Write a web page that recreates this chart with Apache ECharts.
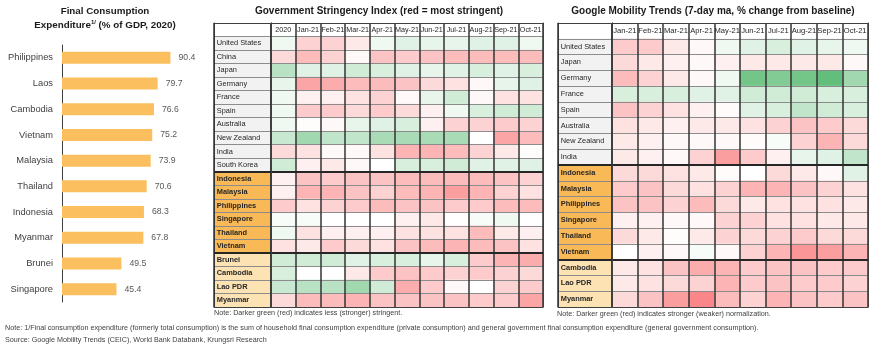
<!DOCTYPE html>
<html><head><meta charset="utf-8">
<script src="https://cdn.jsdelivr.net/npm/echarts@6/dist/echarts.min.js"></script>
<style>html,body{margin:0;padding:0;background:#fff}#c{width:870px;height:351px}</style>
</head><body><div id="c"></div>
<script>
// ---------- data ----------
const consumptionCountries = ['Philippines','Laos','Cambodia','Vietnam','Malaysia','Thailand','Indonesia','Myanmar','Brunei','Singapore'];
const consumptionValues = [90.4,79.7,76.6,75.2,73.9,70.6,68.3,67.8,49.5,45.4];

// colour-scale scores read from the cells: -10 = darkest green, 0 = white, +10 = darkest red
const stringencyMonths = ['2020','Jan-21','Feb-21','Mar-21','Apr-21','May-21','Jun-21','Jul-21','Aug-21','Sep-21','Oct-21'];
const stringencyCountries = ['United States','China','Japan','Germany','France','Spain','Australia','New Zealand','India','South Korea',
  'Indonesia','Malaysia','Philippines','Singapore','Thailand','Vietnam','Brunei','Cambodia','Lao PDR','Myanmar'];
const stringencyGroups = [0,0,0,0,0,0,0,0,0,0, 1,1,1,1,1,1, 2,2,2,2];
const stringencyScores = [
  [-1, 3, 3, 1.5, -1, -2, -1.5, -1.5, -2, -2, -1],
  [2.5, 4.5, 3, 0.5, 4, 3.5, 4, 4.5, 4.5, 4.5, 4.5],
  [-4.5, -2, -2, -3, -2.5, -2, -1.5, -2, -2.5, -2, -2.5],
  [-1.5, 6, 5.5, 4.5, 4.5, 4, 2.5, 2, 0.5, -1.5, -2],
  [-1, 1, 1, 2, 3, 0.5, -1.5, -3, 0.5, 2, 2],
  [-1, 3.5, 3.5, 2.5, 3.5, 2.5, 1, -1, -2.5, -3, -3],
  [-1, 0.2, 0.5, -1.5, -2, -2.5, 1, 3, 3, 3.5, 3],
  [-3.5, -6, -4, -4, -5.5, -5.5, -5.5, -5.5, 0, 6, 4.5],
  [2.5, 2, 0.5, 0.5, 2, 5, 5, 4.5, 3, 1.5, 0.2],
  [-3, 1, 1.5, 0.5, 0, -2.5, -2.5, -3, -2, -2, -2],
  [1, 4, 3.5, 4, 4, 4.5, 4.5, 4.5, 4.5, 4, 3],
  [1, 5, 5, 4, 3, 4.5, 5, 6.5, 5, 3, 2],
  [3.5, 2, 3, 3.5, 4.5, 4, 4, 3.5, 3.5, 4.5, 4.5],
  [-0.5, -0.5, 0, 0, 0, 1, 1.5, 0, -0.5, -1, 0],
  [-1, 2, 1, 1, 1, 2, 2, 2, 4.5, 1.5, 1],
  [2, 1.5, 3.5, 2.5, 2, 4, 4.5, 5, 4.5, 4, 2],
  [-3, -3, -3, -2, -2.5, -2.5, -1.5, -2.5, 3.5, 5, 5.5],
  [-2.5, 0, 0, 1.5, 3.5, 4, 3.5, 3, 3.5, 3, 2.5],
  [-3.5, -4.5, -4.5, -6, -3, 5.5, 3.5, 0.5, 0, 3, 3.5],
  [2.5, 4.5, 4.5, 5, 4, 4, 4, 4, 3.5, 3.5, 6]
];

const mobilityMonths = ['Jan-21','Feb-21','Mar-21','Apr-21','May-21','Jun-21','Jul-21','Aug-21','Sep-21','Oct-21'];
const mobilityCountries = ['United States','Japan','Germany','France','Spain','Australia','New Zealand','India',
  'Indonesia','Malaysia','Philippines','Singapore','Thailand','Vietnam','Cambodia','Lao PDR','Myanmar'];
const mobilityGroups = [0,0,0,0,0,0,0,0, 1,1,1,1,1,1, 2,2,2];
const mobilityScores = [
  [3.5, 3.5, 1.5, 0.5, -1, -2, -2.5, -2, -1.5, -1],
  [2.5, 1.5, 1, 0.5, 1, 1.5, 1.5, 1.5, 1.5, 0.5],
  [4.5, 3, 1.5, 0.5, -1, -9, -8, -9, -10, -6],
  [-2.5, -2.5, -2.5, -2, -2, -3, -3, -3, -2.5, -2.5],
  [4, 3, 2, 1, 0.3, -2, -2.5, -4, -3, -2.5],
  [2, 1.5, 1, 1.5, 1.5, 2, 3, 4, 3.5, 2.5],
  [1.5, 1, 0.5, 0.5, 0.5, 0.3, -0.5, 3, 5, 2.5],
  [1.5, 1, 0.5, 3, 6.5, 3.5, 1, -1.5, -2, -4],
  [2.5, 2.5, 2, 1.5, 0.3, 0, 2.5, 1.5, 0.5, -2],
  [3.5, 4, 2.5, 2, 3, 5, 5, 4, 3, 2],
  [4, 4, 3, 4.5, 2.5, 1.5, 2, 2, 2, 1.5],
  [1, 1, 0.5, 0.5, 3, 3, 2, 2, 1.5, 1.5],
  [2.5, 1.5, 0.2, 1.5, 3, 2.5, 3, 3.5, 2.5, 2.5],
  [0, 1, 0.5, -0.5, 0.5, 3, 5, 7, 6.5, 5],
  [1.5, 2, 4, 5.5, 5, 3.5, 4, 4, 3.5, 3.5],
  [1.5, 2, 2.5, 3, 5, 3.5, 4, 3.5, 3.5, 3],
  [2.5, 4, 6.5, 8, 4.5, 3, 5, 4, 3.5, 4]
];

// ---------- chart ----------
const FONT = '"Liberation Sans",Arial,sans-serif';
const GROUP_BG = ['#f2f2f2','#f9b957','#fde3b4'];
const grid = [], xAxis = [], yAxis = [], series = [], visualMap = [];

grid.push({left:62, top:45, width:120, height:257});
xAxis.push({gridIndex:0, type:'value', min:0, max:100, show:false});
yAxis.push({gridIndex:0, type:'category', inverse:true, data:consumptionCountries,
  axisLine:{show:true, lineStyle:{color:'#404040', width:1}}, axisTick:{show:false},
  axisLabel:{fontFamily:FONT, fontSize:9.3, color:'#404040', margin:9}});
series.push({type:'bar', xAxisIndex:0, yAxisIndex:0, data:consumptionValues, barWidth:12,
  itemStyle:{color:'#FBBF5F'},
  label:{show:true, position:'right', distance:8, color:'#595959', fontFamily:FONT, fontSize:8.7}});

function addTable(cfg) {
  const rows = [''].concat(cfg.countries);
  const rowH = cfg.height / rows.length;
  const sepIdx = [];
  cfg.groups.forEach((g, i) => { if (i > 0 && g !== cfg.groups[i-1]) sepIdx.push(i + 1); });
  const g0 = grid.length;
  grid.push({left:cfg.x0, top:cfg.top, width:cfg.x1 - cfg.x0, height:cfg.height});
  grid.push({left:cfg.x1, top:cfg.top, width:cfg.x2 - cfg.x1, height:cfg.height});
  [g0, g0 + 1].forEach((gi, k) => {
    const cats = k === 0 ? [''] : cfg.months;
    const xi = xAxis.length;
    xAxis.push({gridIndex:gi, type:'category', position:'top', data:cats, z:10,
      axisLine:{show:true, lineStyle:{color:'#404040', width:1}}, axisTick:{show:false, interval:0},
      axisLabel:{show:k === 1, interval:0, margin:-rowH/2, verticalAlign:'middle',
        fontFamily:FONT, fontSize:cfg.headSize, color:'#262626'},
      splitLine:{show:true, interval:0, lineStyle:{color:'#333333', width:1.5}}});
    xAxis.push({gridIndex:gi, type:'category', position:'bottom', data:cats, z:10,
      axisLine:{show:true, lineStyle:{color:'#404040', width:1}}, axisTick:{show:false},
      axisLabel:{show:false}, splitLine:{show:false}});
    const yi = yAxis.length;
    yAxis.push({gridIndex:gi, type:'category', inverse:true, data:rows, z:9,
      axisLine:{show:true, lineStyle:{color:'#404040', width:1}}, axisTick:{show:false, interval:0},
      axisLabel:{show:false, interval:0},
      splitLine:{show:true, interval:0, lineStyle:{color:'#8c8c8c', width:1}}});
    yAxis.push({gridIndex:gi, type:'category', inverse:true, position:'right', data:rows, z:11,
      axisLine:{show:true, lineStyle:{color:'#404040', width:1}}, axisTick:{show:false},
      axisLabel:{show:false},
      splitLine:{show:true, showMaxLine:false, interval:(i) => sepIdx.indexOf(i) >= 0,
        lineStyle:{color:'#262626', width:2}}});
    if (k === 0) {
      series.push({type:'heatmap', xAxisIndex:xi, yAxisIndex:yi, emphasis:{disabled:true},
        data: rows.map((r, i) => i === 0
          ? {value:[0, 0, 0], itemStyle:{color:'#ffffff'}}
          : {value:[0, i, cfg.groups[i-1]], itemStyle:{color:GROUP_BG[cfg.groups[i-1]]},
             label:{fontWeight: cfg.groups[i-1] > 0 ? 'bold' : 'normal'}}),
        label:{show:true, position:'insideLeft', distance:3, formatter:(p) => rows[p.value[1]],
          fontFamily:FONT, fontSize:7.4, color:'#262626'}});
    } else {
      const si = series.length;
      const data = [];
      cfg.scores.forEach((row, i) => row.forEach((v, j) => data.push([j, i + 1, v])));
      series.push({type:'heatmap', xAxisIndex:xi, yAxisIndex:yi, data, emphasis:{disabled:true}});
      visualMap.push({show:false, type:'continuous', seriesIndex:si, min:-10, max:10, dimension:2,
        inRange:{color:['#63BE7B', '#FFFFFF', '#F8696B']}});
    }
  });
}

addTable({x0:214, x1:271, x2:543, top:23, height:284, countries:stringencyCountries, headSize:7.2,
  groups:stringencyGroups, months:stringencyMonths, scores:stringencyScores});
addTable({x0:558, x1:612, x2:868, top:23, height:284, countries:mobilityCountries, headSize:7.6,
  groups:mobilityGroups, months:mobilityMonths, scores:mobilityScores});

const titleBold = {fontFamily:FONT, fontSize:10, fontWeight:'bold', color:'#1a1a1a'};
const noteStyle = {fontFamily:FONT, fontSize:7.2, fontWeight:'normal', color:'#404040'};
const title = [
  {text:'{b|Final Consumption}\n{b|Expenditure}{s|1/}{b| (% of GDP, 2020)}', left:105, top:4, padding:0, textAlign:'center',
    textStyle:{rich:{b:Object.assign({lineHeight:14}, titleBold, {fontSize:9.8}),
      s:{fontFamily:FONT, fontSize:6, fontWeight:'bold', color:'#1a1a1a', lineHeight:14, padding:[0,0,6,0]}}}},
  {text:'Government Stringency Index (red = most stringent)', left:379, top:6, padding:0, textAlign:'center', textStyle:titleBold},
  {text:'Google Mobility Trends (7-day ma, % change from baseline)', left:713, top:6, padding:0, textAlign:'center', textStyle:titleBold},
  {text:'Note: Darker green (red) indicates less (stronger) stringent.', left:214, top:310, padding:0, textStyle:noteStyle},
  {text:'Note: Darker green (red) indicates stronger (weaker) normalization.', left:557, top:311, padding:0, textStyle:noteStyle},
  {text:'Note: 1/Final consumption expenditure (formerly total consumption) is the sum of household final consumption expenditure (private consumption) and general government final consumption expenditure (general government consumption).', left:5, top:325, padding:0, textStyle:noteStyle},
  {text:'Source: Google Mobility Trends (CEIC), World Bank Databank, Krungsri Research', left:5, top:337, padding:0, textStyle:noteStyle}
];

const chart = echarts.init(document.getElementById('c'), null, {renderer:'canvas'});
chart.setOption({animation:false, backgroundColor:'#ffffff', title, grid, xAxis, yAxis, series, visualMap});
</script>
</body></html>
